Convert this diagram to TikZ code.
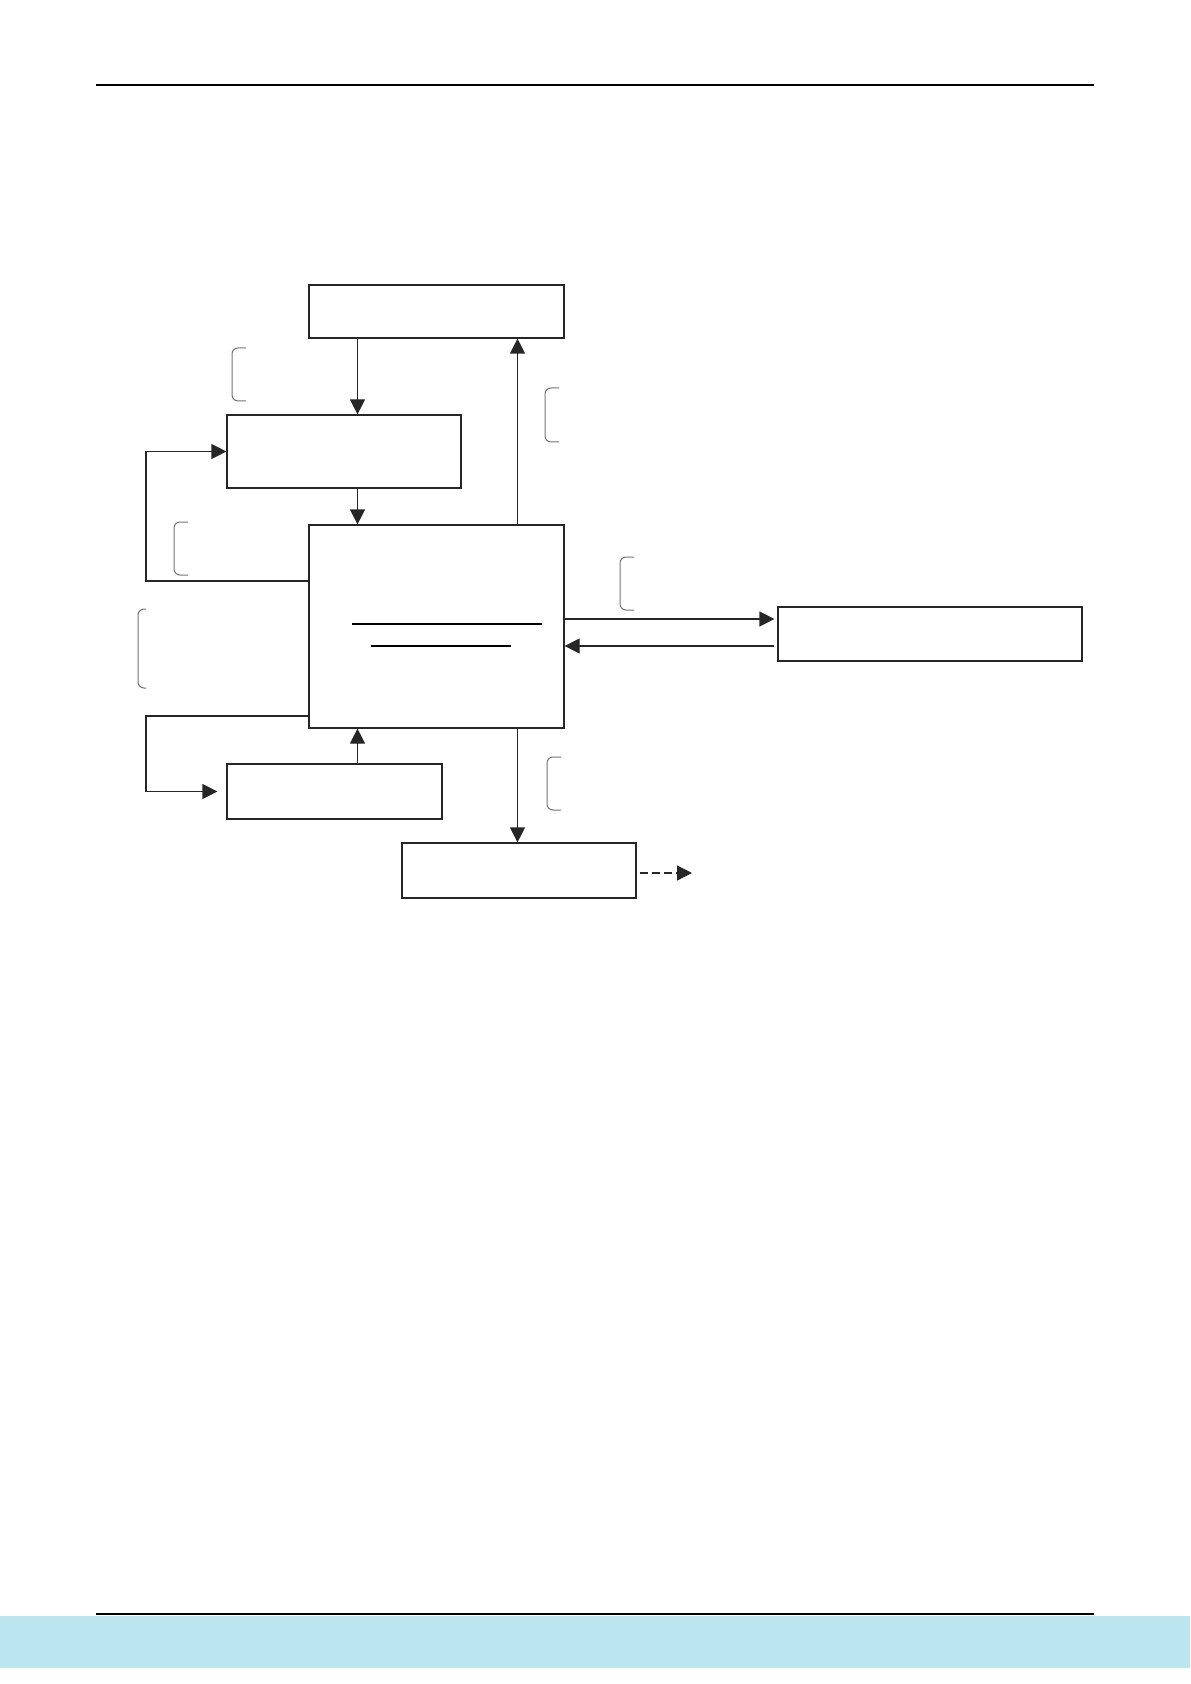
\documentclass[tikz,border=0pt]{standalone}
\usepackage{tikz}
\usetikzlibrary{arrows.meta,calc}

\definecolor{bandblue}{HTML}{BBE5EF}

\begin{document}
\begin{tikzpicture}[
    x=0.5pt, y=-0.5pt,
    >={Triangle[length=7.5pt,width=7.5pt]},
    block/.style={
        rectangle,
        draw=black!85,
        line width=0.6pt,
        fill=white,
        inner sep=0pt
    },
    flow/.style={->, line width=0.6pt, draw=black!85},
    brace/.style={draw=black!55, line width=0.5pt, rounded corners=3pt},
    rule/.style={line width=0.8pt, black}
]

% Page frame
\useasboundingbox (0,0) rectangle (1190,1684);
\fill[bandblue] (0,1616) rectangle (1190,1668);
\draw[rule] (96,85) -- (1094,85);
\draw[rule] (96,1614) -- (1094,1614);

% Blocks
\node[block, minimum width=127.5pt, minimum height=26.5pt]  (top)   at (436.5,311.5) {};
\node[block, minimum width=117pt,   minimum height=36.5pt]  (upper) at (344,451.5)   {};
\node[block, minimum width=127.5pt, minimum height=101.5pt] (core)  at (436.5,626.5) {};
\node[block, minimum width=152pt,   minimum height=27pt]    (side)  at (930,634)     {};
\node[block, minimum width=107.5pt, minimum height=27.5pt]  (lower) at (334.5,791.5) {};
\node[block, minimum width=117pt,   minimum height=27.5pt]  (out)   at (519,870.5)   {};

% Rules inside the core block
\draw[line width=1pt] (352,624) -- (542,624);
\draw[line width=1pt] (371,646) -- (511,646);

% Columns and levels for the connectors
\coordinate (colL) at (357.5,0);
\coordinate (colR) at (517.5,0);
\coordinate (fbA)  at (146,581);
\coordinate (fbB)  at (146,716);
\coordinate (rtA)  at (0,619);
\coordinate (rtB)  at (0,646);
\coordinate (nxt)  at (692,873);

% Vertical flow
\draw[flow] (top.south -| colL) -- (upper.north -| colL);
\draw[flow] (upper.south -| colL) -- (core.north -| colL);
\draw[flow] (core.north -| colR) -- (top.south -| colR);
\draw[flow] (lower.north -| colL) -- (core.south -| colL);
\draw[flow] (core.south -| colR) -- (out.north -| colR);

% Feedback loops on the left
\draw[flow] (core.west |- fbA) -- (fbA) |- (upper.west);
\draw[flow, shorten >=4.5pt] (core.west |- fbB) -- (fbB) |- (lower.west);

% Exchange with the side block
\draw[flow, shorten >=1.5pt] (core.east |- rtA) -- (side.west |- rtA);
\draw[flow, shorten <=1.5pt] (side.west |- rtB) -- (core.east |- rtB);

% Onward output
\draw[flow, dash pattern=on 4pt off 2pt, shorten <=1.5pt] (out.east |- nxt) -- (nxt);

% Brackets
\draw[brace] (246,348) -- (232,348) -- (232,401) -- (246,401);
\draw[brace] (559,388) -- (545,388) -- (545,442) -- (559,442);
\draw[brace] (188,522) -- (174,522) -- (174,575) -- (188,575);
\draw[brace] (146,609) -- (138,609) -- (138,688) -- (146,688);
\draw[brace] (634,557) -- (620,557) -- (620,610) -- (634,610);
\draw[brace] (561,757) -- (547,757) -- (547,810) -- (561,810);

\end{tikzpicture}
\end{document}
